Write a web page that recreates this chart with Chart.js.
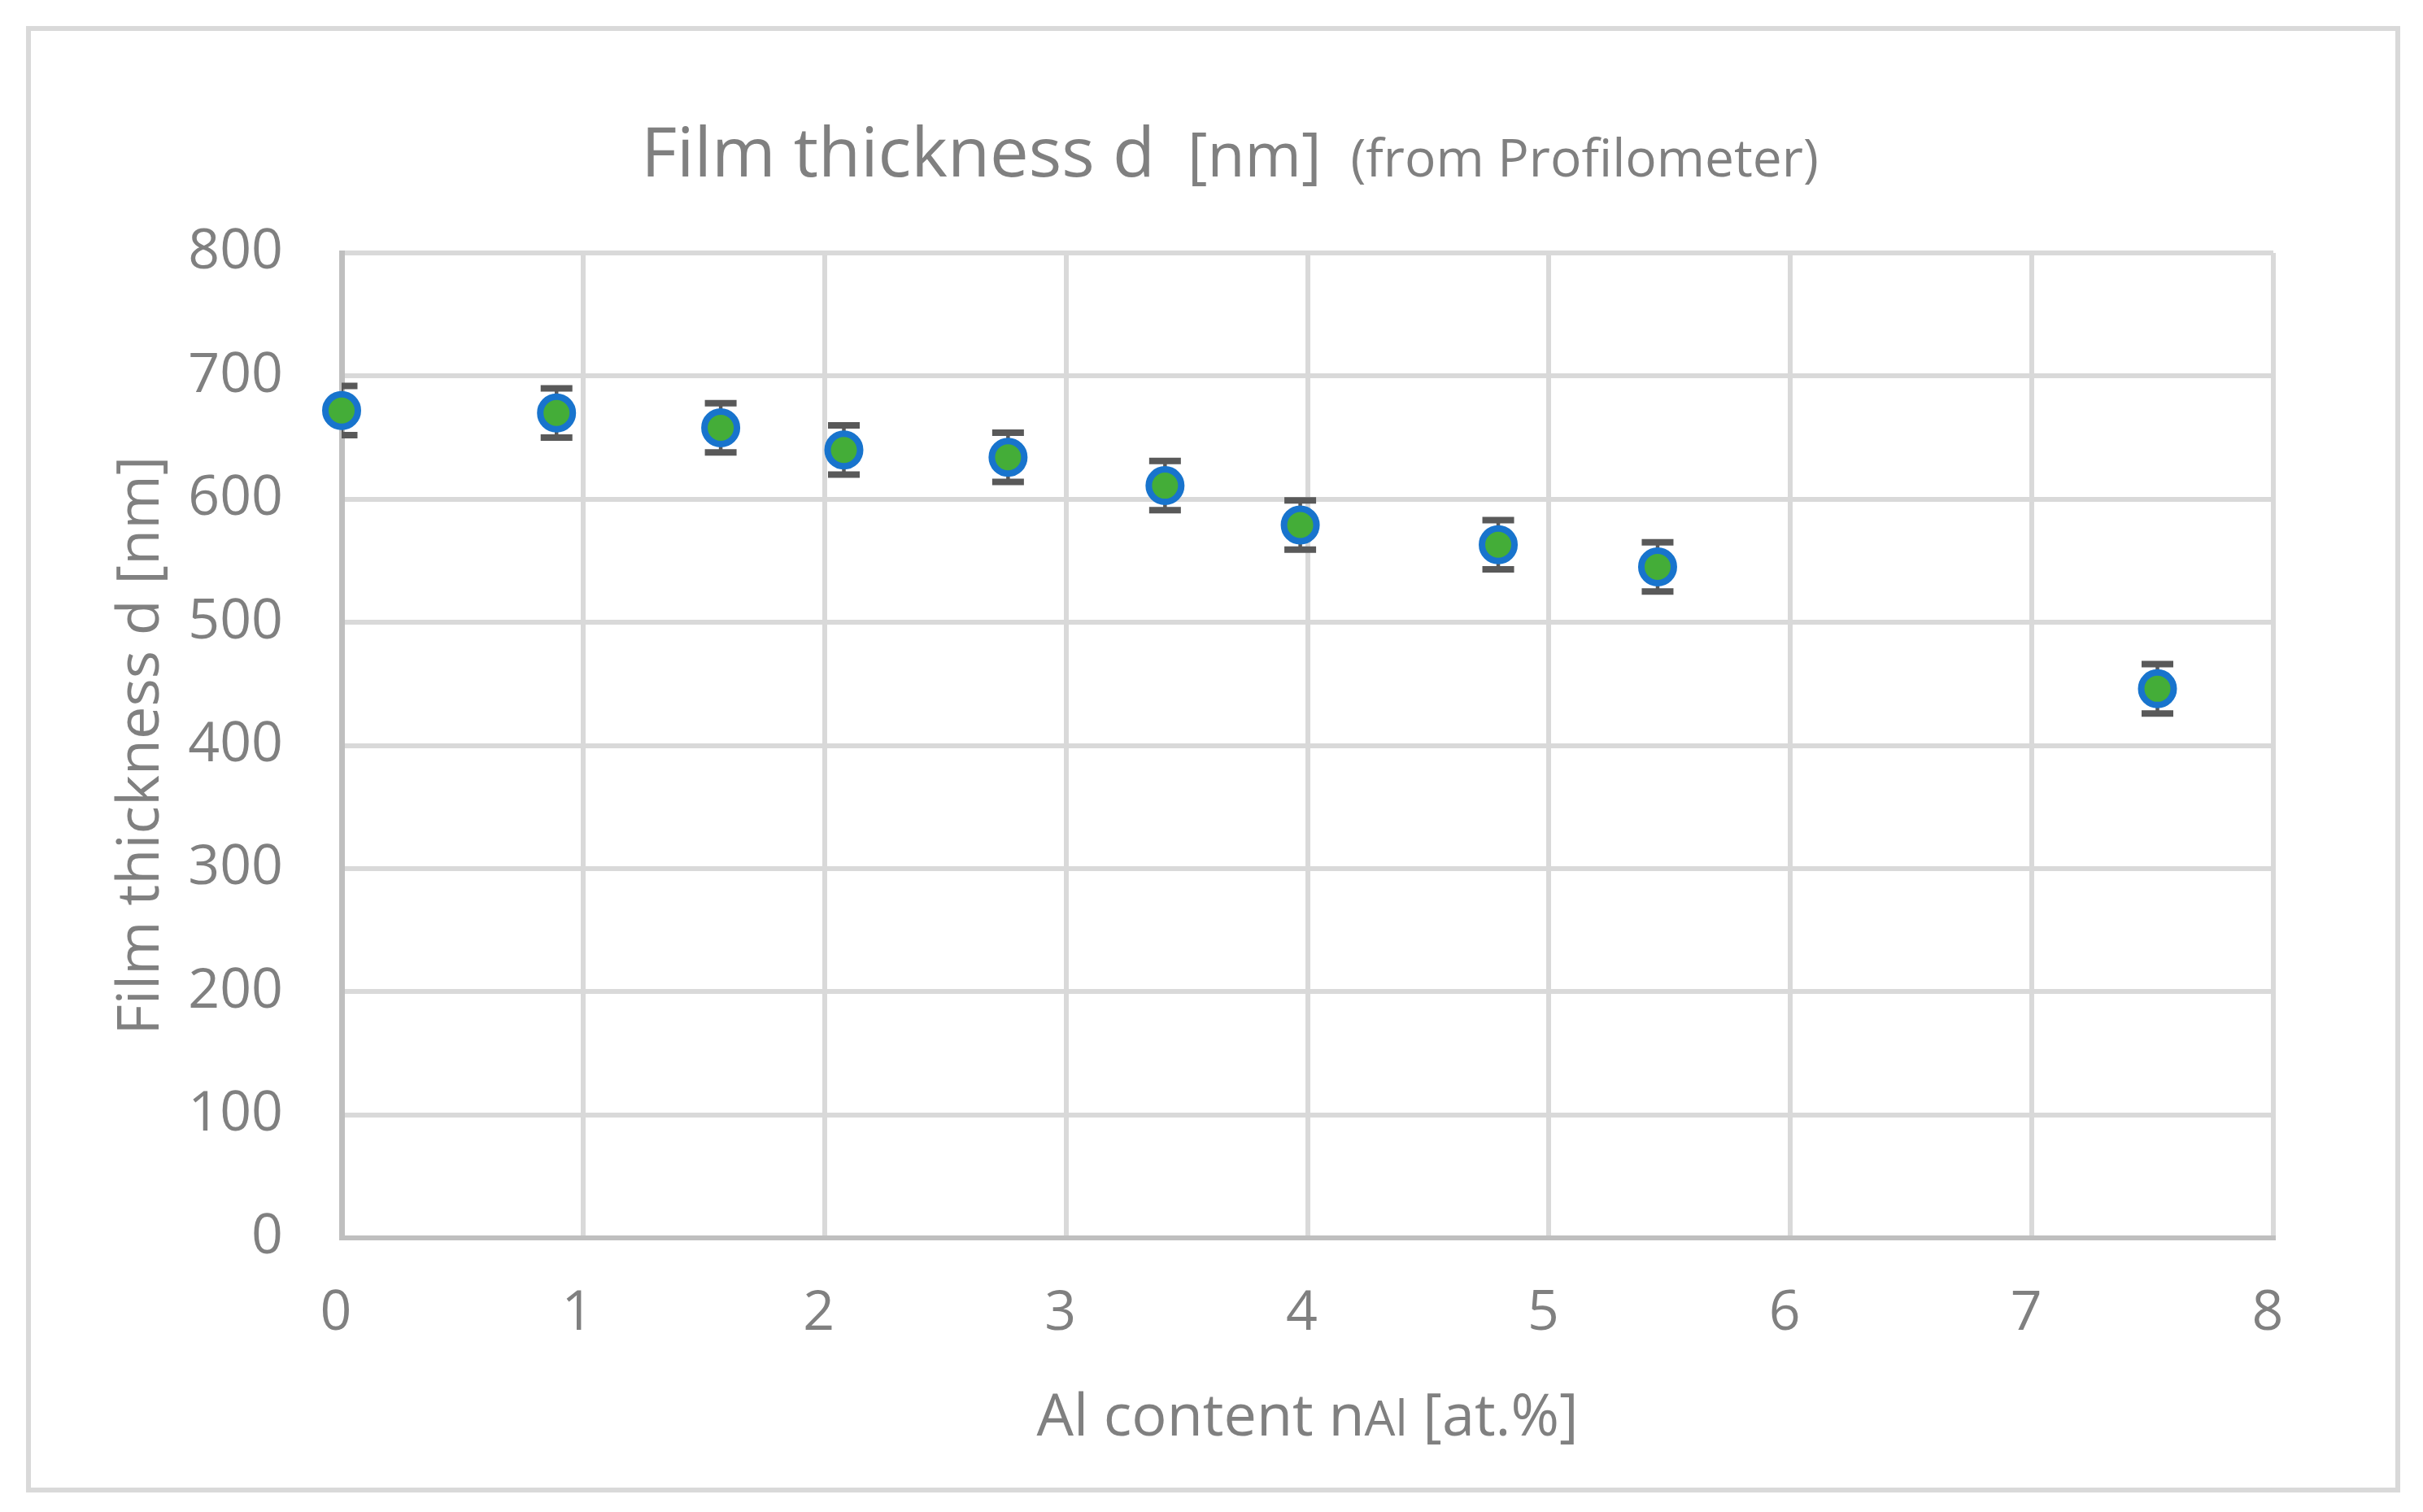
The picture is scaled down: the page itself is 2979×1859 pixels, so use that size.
<!DOCTYPE html>
<html>
<head>
<meta charset="utf-8">
<script src="https://cdn.jsdelivr.net/npm/chart.js@4.4.1/dist/chart.umd.min.js"></script>
<style>
html, body { margin: 0; padding: 0; background: #ffffff; }
#wrap { width: 2979px; height: 1859px; }
canvas { display: block; }
</style>
</head>
<body>
<div id="wrap"><canvas id="c" width="2979" height="1859"></canvas></div>
<script>
// ---- data ----
const alContent = [0.0, 0.89, 1.57, 2.08, 2.76, 3.41, 3.97, 4.79, 5.45, 7.52];
const thickness = [672, 670, 658, 640, 634, 611, 579, 563, 545, 446];
const thicknessErr = [20, 20, 20, 20, 20, 20, 20, 20, 20, 20];
const xTickValues = [0, 1, 2, 3, 4, 5, 6, 7, 8];
const yTickValues = [0, 100, 200, 300, 400, 500, 600, 700, 800];
const titleParts = ["Film thickness d", "[nm]", "(from Profilometer)"];
const xTitleParts = ["Al content n", "Al", " [at.%]"];
const yTitleText = "Film thickness d [nm]";

// ---- styles ----
const FONT = "'Open Sans', 'Liberation Sans', sans-serif";
const TEXT = '#808080';
const GRID = '#D9D9D9';
const AXIS = '#BFBFBF';
const ERR = '#595959';

const points = alContent.map((x, i) => ({ x: x, y: thickness[i] }));

const frameAndTextPlugin = {
  id: 'frameAndText',
  beforeDraw(chart) {
    const ctx = chart.ctx;
    ctx.save();
    ctx.fillStyle = '#ffffff';
    ctx.fillRect(0, 0, chart.width, chart.height);
    ctx.strokeStyle = GRID;
    ctx.lineWidth = 6;
    ctx.strokeRect(35, 35, 2913, 1797);
    ctx.restore();
  },
  afterDraw(chart) {
    const ctx = chart.ctx;
    const ca = chart.chartArea;
    ctx.save();
    ctx.fillStyle = TEXT;
    ctx.textBaseline = 'alphabetic';
    ctx.textAlign = 'left';

    // chart title (three runs with different sizes)
    const tSizes = [85, 75, 64];
    const tGaps = [40, 36];
    const widths = titleParts.map((t, i) => { ctx.font = tSizes[i] + 'px ' + FONT; return ctx.measureText(t).width; });
    const total = widths[0] + widths[1] + widths[2] + tGaps[0] + tGaps[1];
    let x = 1512 - total / 2;
    titleParts.forEach((t, i) => {
      ctx.font = tSizes[i] + 'px ' + FONT;
      ctx.fillText(t, x, 217);
      x += widths[i] + (i < 2 ? tGaps[i] : 0);
    });

    // x-axis title
    const xSizes = [72, 60, 72];
    const xw = xTitleParts.map((t, i) => { ctx.font = xSizes[i] + 'px ' + FONT; return ctx.measureText(t).width; });
    let xx = (ca.left + ca.right) / 2 - (xw[0] + xw[1] + xw[2]) / 2;
    xTitleParts.forEach((t, i) => {
      ctx.font = xSizes[i] + 'px ' + FONT;
      ctx.fillText(t, xx, 1765);
      xx += xw[i];
    });

    // y-axis title (rotated)
    ctx.translate(195, (ca.top + ca.bottom) / 2);
    ctx.rotate(-Math.PI / 2);
    ctx.textAlign = 'center';
    ctx.font = '72px ' + FONT;
    ctx.fillText(yTitleText, 0, 0);
    ctx.restore();
  }
};

const errorBarPlugin = {
  id: 'errorBars',
  beforeDatasetsDraw(chart) {
    const ctx = chart.ctx;
    const ca = chart.chartArea;
    const xs = chart.scales.x, ys = chart.scales.y;
    ctx.save();
    ctx.beginPath();
    ctx.rect(ca.left, ca.top, ca.right - ca.left, ca.bottom - ca.top);
    ctx.clip();
    ctx.strokeStyle = ERR;
    alContent.forEach((xv, i) => {
      const px = xs.getPixelForValue(xv);
      const yTop = ys.getPixelForValue(thickness[i] + thicknessErr[i]);
      const yBot = ys.getPixelForValue(thickness[i] - thicknessErr[i]);
      ctx.lineWidth = 4.5;
      ctx.beginPath();
      ctx.moveTo(px, yTop);
      ctx.lineTo(px, yBot);
      ctx.stroke();
      ctx.lineWidth = 8;
      ctx.beginPath();
      ctx.moveTo(px - 19.5, yTop);
      ctx.lineTo(px + 19.5, yTop);
      ctx.moveTo(px - 19.5, yBot);
      ctx.lineTo(px + 19.5, yBot);
      ctx.stroke();
    });
    ctx.restore();
  }
};

const gridColor = (c) => (c.tick && c.tick.value === 0) ? 'rgba(0,0,0,0)' : GRID;

new Chart(document.getElementById('c'), {
  type: 'scatter',
  data: {
    datasets: [{
      label: 'Film thickness d',
      data: points,
      showLine: false,
      pointRadius: 20,
      pointHoverRadius: 20,
      pointBorderWidth: 8,
      backgroundColor: '#44AD38',
      borderColor: '#1874CD',
      clip: false
    }]
  },
  options: {
    responsive: false,
    animation: false,
    devicePixelRatio: 1,
    events: [],
    layout: { padding: { left: 0, top: 311, right: 184, bottom: 0 } },
    plugins: {
      legend: { display: false },
      title: { display: false },
      tooltip: { enabled: false }
    },
    scales: {
      x: {
        type: 'linear',
        min: 0, max: 8,
        afterBuildTicks: (s) => { s.ticks = xTickValues.map(v => ({ value: v })); },
        afterFit: (s) => { s.height = 337; },
        grid: { color: gridColor, lineWidth: 6, drawTicks: false },
        border: { display: true, color: AXIS, width: 6 },
        ticks: { font: { family: FONT, size: 68 }, color: TEXT, padding: 53, labelOffset: -7, maxRotation: 0 }
      },
      y: {
        type: 'linear',
        min: 0, max: 800,
        afterBuildTicks: (s) => { s.ticks = yTickValues.map(v => ({ value: v })); },
        afterFit: (s) => { s.width = 420; },
        grid: { color: gridColor, lineWidth: 6, drawTicks: false },
        border: { display: true, color: AXIS, width: 7 },
        ticks: { font: { family: FONT, size: 68 }, color: TEXT, padding: 72 }
      }
    }
  },
  plugins: [frameAndTextPlugin, errorBarPlugin]
});
</script>
</body>
</html>
